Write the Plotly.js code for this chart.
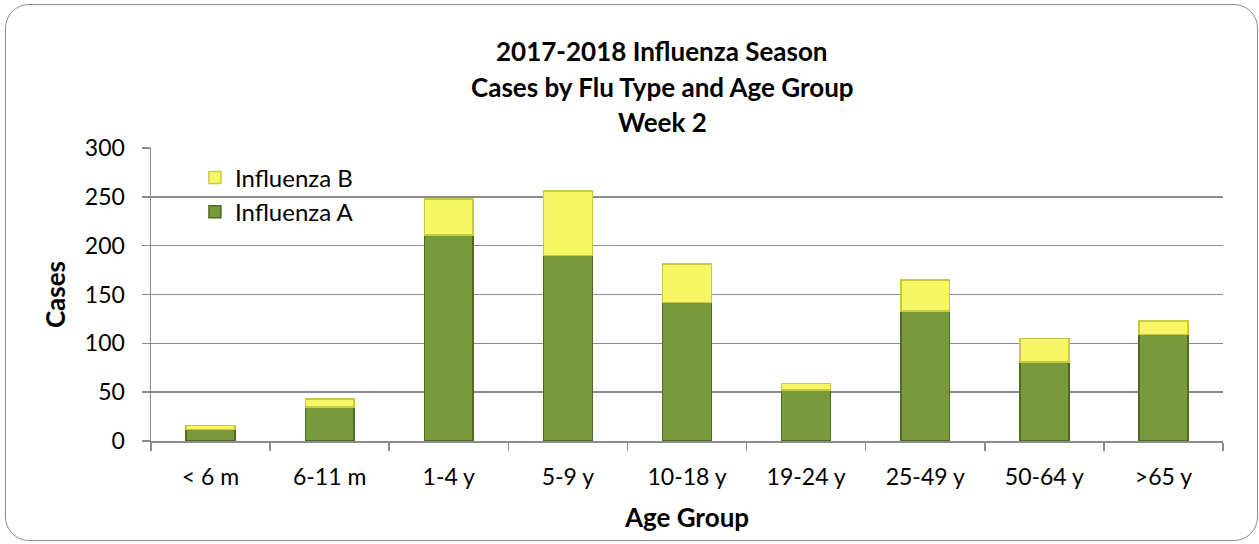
<!DOCTYPE html>
<html>
<head>
<meta charset="utf-8">
<script src="https://cdn.plot.ly/plotly-3.0.1.min.js"></script>
<style>
  html, body { margin: 0; padding: 0; background: #ffffff; }
  #wrap { position: relative; width: 1259px; height: 544px; overflow: hidden; }
  #frame { position: absolute; left: 5px; top: 4px; width: 1251px; height: 535px;
           border: 1.5px solid #8c8c8c; border-radius: 24px; pointer-events: none; }
  #chart { position: absolute; left: 0; top: 0; width: 1259px; height: 544px; }
</style>
</head>
<body>
<div id="wrap">
  <div id="chart"></div>
  <div id="frame"></div>
</div>
<script>
const categories = ["< 6 m", "6-11 m", "1-4 y", "5-9 y", "10-18 y", "19-24 y", "25-49 y", "50-64 y", ">65 y"];
const influenzaA = [12, 35, 211, 190, 142, 52, 133, 81, 109];
const influenzaB = [4, 8, 37, 66, 39, 7, 32, 24, 14];
const yTicks = [0, 50, 100, 150, 200, 250, 300];
const titleLines = ["2017-2018 Influenza Season", "Cases by Flu Type and Age Group", "Week 2"];

const font = "Lato, 'Open Sans', sans-serif";

const traces = [
  {
    type: "bar", name: "Influenza A", x: categories, y: influenzaA,
    marker: { color: "#779a3a", line: { color: "#4f6a22", width: 1.5 } },
    hoverinfo: "x+y+name"
  },
  {
    type: "bar", name: "Influenza B", x: categories, y: influenzaB,
    marker: { color: "#f7f765", line: { color: "#c9c842", width: 1.5 } },
    hoverinfo: "x+y+name"
  }
];

// Title lines as annotations (paper coords relative to plot area)
const titleY = [1.33, 1.209, 1.088];
const annotations = titleLines.map((t, i) => ({
  text: "<b>" + t + "</b>", xref: "paper", yref: "paper",
  x: 0.4767, y: titleY[i], xanchor: "center", yanchor: "middle",
  showarrow: false, font: { family: font, size: 26, color: "#000000" }
}));

const layout = {
  width: 1259, height: 544,
  paper_bgcolor: "rgba(0,0,0,0)", plot_bgcolor: "rgba(0,0,0,0)",
  barmode: "stack", bargap: 0.59,
  margin: { l: 151, r: 36, t: 148, b: 103 },
  font: { family: font, color: "#000000", size: 23 },
  annotations: annotations,
  xaxis: {
    type: "category",
    tickson: "boundaries", ticks: "outside", ticklen: 8, tickcolor: "#8c8c8c", tickwidth: 1.5,
    showline: true, linecolor: "#8c8c8c", linewidth: 1.5,
    showgrid: false,
    ticklabelstandoff: 15,
    tickfont: { family: font, size: 23, color: "#000000" },
    title: { text: "<b>Age Group</b>", font: { family: font, size: 26, color: "#000000" }, standoff: 19 }
  },
  yaxis: {
    range: [0, 300], tickvals: yTicks, ticktext: yTicks.map(String),
    ticks: "outside", ticklen: 8, tickcolor: "#8c8c8c", tickwidth: 1.5,
    showline: true, linecolor: "#8c8c8c", linewidth: 1.5,
    showgrid: true, gridcolor: "#8c8c8c", gridwidth: 1.5,
    zeroline: false,
    ticklabelstandoff: 12,
    tickfont: { family: font, size: 23, color: "#000000" },
    title: { text: "<b>Cases</b>", font: { family: font, size: 26, color: "#000000" }, standoff: 12 }
  },
  legend: {
    x: 0.041, y: 0.975, xanchor: "left", yanchor: "top",
    traceorder: "reversed",
    bgcolor: "rgba(0,0,0,0)",
    font: { family: font, size: 24, color: "#000000" },
    itemwidth: 30, tracegroupgap: 0
  },
  showlegend: true
};

Plotly.newPlot("chart", traces, layout, { displayModeBar: false, staticPlot: true });
</script>
</body>
</html>
